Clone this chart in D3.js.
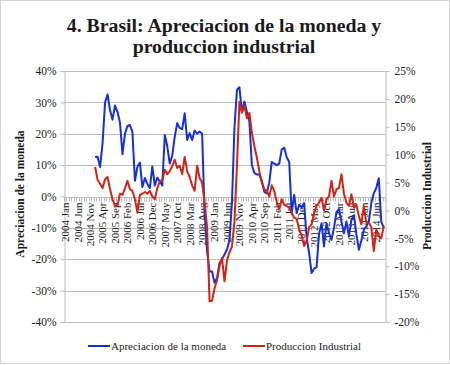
<!DOCTYPE html>
<html><head><meta charset="utf-8">
<script src="https://cdn.jsdelivr.net/npm/d3@7"></script>
<style>body{margin:0;background:#fff}svg{display:block}svg text{font-family:"Liberation Serif","DejaVu Serif",serif !important;fill:#1a1a1a}</style>
</head><body><svg id="c" width="450" height="365"></svg>
<script>
const titleLines = ["4. Brasil: Apreciacion de la moneda y", "produccion industrial"];
const years = [2004,2005,2006,2007,2008,2009,2010,2011,2012,2013,2014];
const monthNames = ["Jan","Feb","Mar","Apr","May","Jun","Jul","Aug","Sep","Oct","Nov","Dec"];
const lastMonthIndex2014 = 8; // Sep
const leftTicks = [-40,-30,-20,-10,0,10,20,30,40];
const rightTicks = [-20,-15,-10,-5,0,5,10,15,20,25];
const seriesNames = ["Apreciacion de la moneda","Produccion Industrial"];
const labelEvery = 5;
// Apreciacion de la moneda (% , left axis), 2004 Jan .. 2014 Sep
const apreciacion = [
 null,null,null,null,null,null,null,null,null,null,null,null,
 12.6,12.7,9.4,17,30,32.5,27.5,24.5,29,27,23.5,13.5,
 20,22.5,22.8,20.5,5,9.5,10.8,3,5.9,4,2.7,9.6,
 3.5,6,4.8,3.5,19.6,16,10.5,13,19,23.4,21.8,21.5,
 26.5,18,20.2,18,21,20,20.7,20,-5.3,-17.5,-23.9,-23.9,
 -27.5,-26,-21.2,-20,-18.5,-17,-13.8,-2,22,34,34.8,27,
 30.3,27,24,10,7.5,7,7,5,1.5,1,4.5,11,
 10.5,10,10.5,15,15.5,12.5,11,-5.3,0.5,-5.3,-2.6,-3.5,
 -2.1,-13,-18,-24.4,-23,-22.5,-12,-8.5,-15.9,-8.5,-11.7,-13.8,
 -10,-5,-4,-8,-11.7,-8,-12.7,-7.5,-6,-12,-17,-14,
 -10.6,-9.5,-8,-2,1,2.7,5.8,-8,-10
];
// Produccion Industrial (% , right axis)
const produccion = [
 null,null,null,null,null,null,null,null,null,null,null,null,
 7.8,5.5,4.8,4,5.6,6,3.8,2,0.8,1,3,2.8,
 4,5.3,3.8,3.5,2,-0.4,2.8,3,3.3,3,3.5,2.5,
 2,4,5.2,5.5,7.3,6.5,7,8,9.1,7.6,8,6.5,
 9.6,7,6,4.5,3.5,8,5.8,5,1.5,-3,-16.3,-16.2,
 -14,-12.5,-10,-8.5,-12.7,-9,-7.5,-6.5,-2,8,19.5,17.5,
 18.7,16.5,17.5,14,11.5,9.5,7,5,3.8,3.5,2.5,4.5,
 3.5,1.5,0.2,2,1,0.8,0.5,-0.5,-1.3,-1.5,-3.4,-4.5,
 -6.4,-5.5,-3,-2.5,-0.5,0.8,1.4,2.3,0,2,2.5,5.3,
 2.5,3.8,4,6.5,3,1.4,0.8,2.9,0.5,1,-1,-2.5,
 0.8,-2.2,-2.2,-3,-7.3,-3.4,-4.6,-5,-2.8
];
const categories = [];
years.forEach(y => monthNames.forEach((m, k) => {
  if (y < 2014 || k <= lastMonthIndex2014) categories.push(y + " " + m);
}));

const svg = d3.select("#c");
svg.append("rect").attr("x",0.5).attr("y",0.5).attr("width",449).attr("height",363)
  .attr("fill","#fff").attr("stroke","#d4d4d4");

const L = 64, R = 385, T = 71, B = 322;
const x = d3.scaleBand().domain(categories).range([L, R]);
const yL = d3.scaleLinear().domain([-40, 40]).range([B, T]);
const yR = d3.scaleLinear().domain([-20, 25]).range([B, T]);
const gridC = "#bcbcbc";

// title
svg.append("g").selectAll("text").data(titleLines).join("text")
  .attr("x", 224).attr("y", (d,i) => 32 + i*21)
  .attr("text-anchor","middle").attr("font-size", 19.8).attr("font-weight","bold")
  .text(d => d);

// gridlines
svg.append("g").selectAll("line").data(leftTicks).join("line")
  .attr("x1", L).attr("x2", R).attr("y1", d => Math.round(yL(d))+0.5).attr("y2", d => Math.round(yL(d))+0.5)
  .attr("stroke", gridC).attr("stroke-width", 1);

// left axis
const gl = svg.append("g").attr("transform", `translate(${L+0.5},0)`)
  .call(d3.axisLeft(yL).tickValues(leftTicks).tickSize(4).tickPadding(4).tickFormat(d => d + "%"));
gl.attr("font-family", null);
gl.select(".domain").attr("stroke", gridC);
gl.selectAll(".tick line").attr("stroke", gridC);
gl.selectAll("text").attr("font-size", 11.5).attr("fill","#1a1a1a");

// right axis
const gr = svg.append("g").attr("transform", `translate(${R+0.5},0)`)
  .call(d3.axisRight(yR).tickValues(rightTicks).tickSize(4).tickPadding(5).tickFormat(d => d + "%"));
gr.attr("font-family", null);
gr.select(".domain").attr("stroke", gridC);
gr.selectAll(".tick line").attr("stroke", gridC);
gr.selectAll("text").attr("font-size", 11.5).attr("fill","#1a1a1a");

// category axis at 0% of left axis
const y0 = Math.round(yL(0)) + 0.5;
const gx = svg.append("g").attr("transform", `translate(0,${y0})`);
gx.append("line").attr("x1", L).attr("x2", R).attr("stroke", gridC);
gx.selectAll("line.tk").data(categories.concat(["__end"])).join("line").attr("class","tk")
  .attr("x1", (d,i) => Math.round(L + i*x.step())+0.5).attr("x2", (d,i) => Math.round(L + i*x.step())+0.5)
  .attr("y1", 0).attr("y2", 4).attr("stroke", gridC);
gx.selectAll("text").data(categories.filter((d,i) => i % labelEvery === 0)).join("text")
  .attr("transform", d => `translate(${x(d) + x.bandwidth()/2},5) rotate(-90)`)
  .attr("text-anchor","end").attr("dy","0.35em").attr("font-size", 11)
  .text(d => d);

// series
const cx = (d,i) => x(categories[i]) + x.bandwidth()/2;
const lineL = d3.line().defined(d => d != null).x(cx).y(d => yL(d));
const lineR = d3.line().defined(d => d != null).x(cx).y(d => yR(d));
const blue = "#1730d6", red = "#cf2416";
svg.append("path").datum(apreciacion).attr("d", lineL).attr("fill","none")
  .attr("stroke", blue).attr("stroke-width", 2).attr("stroke-linejoin","round");
svg.append("path").datum(produccion).attr("d", lineR).attr("fill","none")
  .attr("stroke", red).attr("stroke-width", 2).attr("stroke-linejoin","round");

// axis titles
svg.append("text").attr("transform","translate(24,194) rotate(-90)").attr("text-anchor","middle")
  .attr("font-size", 11.5).attr("font-weight","bold").text("Apreciacion de la moneda");
svg.append("text").attr("transform","translate(431,196) rotate(-90)").attr("text-anchor","middle")
  .attr("font-size", 11.5).attr("font-weight","bold").text("Produccion Industrial");

// legend
const legend = [{name: seriesNames[0], color: blue, x: 88}, {name: seriesNames[1], color: red, x: 243}];
const lg = svg.append("g").selectAll("g").data(legend).join("g").attr("transform", d => `translate(${d.x},346)`);
lg.append("line").attr("x1",0).attr("x2",22).attr("stroke", d => d.color).attr("stroke-width",2);
lg.append("text").attr("x",23).attr("dy","0.35em").attr("font-size",11).text(d => d.name);
</script></body></html>
